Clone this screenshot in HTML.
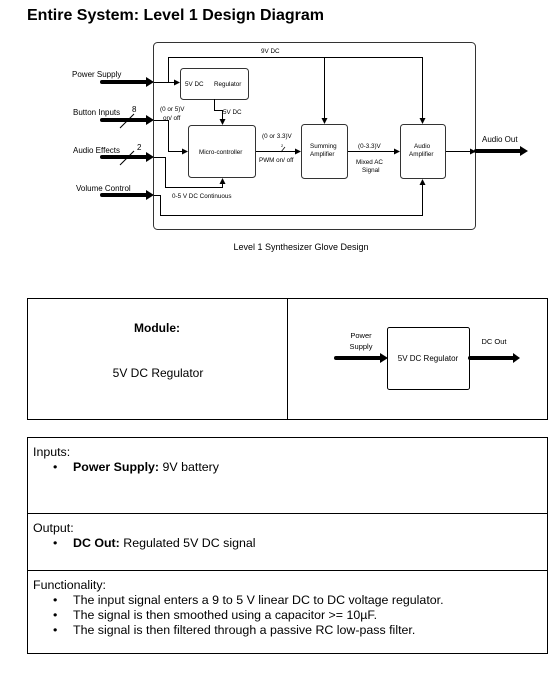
<!DOCTYPE html>
<html><head><meta charset="utf-8"><style>
html,body{margin:0;padding:0;background:#fff;}
svg{display:block;font-family:"Liberation Sans",Arial,sans-serif;}
</style></head><body>
<svg width="560" height="674" viewBox="0 0 560 674" xmlns="http://www.w3.org/2000/svg">
<defs>
<marker id="a" markerWidth="6" markerHeight="6" refX="5" refY="3" orient="auto" markerUnits="userSpaceOnUse"><path d="M0,0 L6,3 L0,6 z" fill="#000"/></marker>
</defs>
<text x="27" y="20" font-size="16" font-weight="bold">Entire System: Level 1 Design Diagram</text>
<rect x="153.5" y="42.5" width="322" height="187" rx="4" fill="none" stroke="#333" stroke-width="1"/>
<g fill="none" stroke="#333" stroke-width="1">
<rect x="180.5" y="68.5" width="68" height="31" rx="3"/>
<rect x="188.5" y="125.5" width="67" height="52" rx="3"/>
<rect x="301.5" y="124.5" width="46" height="54" rx="3"/>
<rect x="400.5" y="124.5" width="45" height="54" rx="3"/>
</g>
<g stroke="#000" stroke-width="4" stroke-linecap="round">
<line x1="102" y1="82" x2="148" y2="82"/>
<line x1="102" y1="120" x2="148" y2="120"/>
<line x1="102" y1="157" x2="148" y2="157"/>
<line x1="102" y1="195" x2="148" y2="195"/>
<line x1="476" y1="151" x2="522" y2="151"/>
<line x1="336" y1="358" x2="381" y2="358"/>
<line x1="470" y1="358" x2="514" y2="358"/>
</g>
<g fill="#000">
<path d="M146,77 L154,82 L146,87z"/><path d="M146,115 L154,120 L146,125z"/><path d="M146,152 L154,157 L146,162z"/><path d="M146,190 L154,195 L146,200z"/>
<path d="M520,146 L528,151 L520,156z"/><path d="M380,353 L388,358 L380,363z"/><path d="M513,353 L520,358 L513,363z"/>
</g>
<g stroke="#000" stroke-width="1" fill="none">
<line x1="120" y1="128" x2="134" y2="114"/>
<line x1="120" y1="165" x2="134" y2="151"/>
<path d="M154,82.5 H179" marker-end="url(#a)"/>
<path d="M168.5,82.5 V57.5 H422.5 V123" marker-end="url(#a)"/>
<path d="M324.5,57.5 V123" marker-end="url(#a)"/>
<path d="M214.5,99 V110.5 H222.5 V124" marker-end="url(#a)"/>
<path d="M154,120.5 H168.5 V151.5 H187" marker-end="url(#a)"/>
<path d="M154,157.5 H165.5 V187.5 H222.5 V179" marker-end="url(#a)"/>
<path d="M154,195.5 H160.5 V215.5 H422.5 V180" marker-end="url(#a)"/>
<path d="M256,151.5 H300" marker-end="url(#a)"/>
<path d="M348,151.5 H399" marker-end="url(#a)"/>
<path d="M446,151.5 H475" marker-end="url(#a)"/>
<line x1="281" y1="152" x2="285" y2="147" stroke-width="0.7"/>
</g>
<g font-size="8">
<text x="72" y="77">Power Supply</text>
<text x="73" y="115">Button Inputs</text>
<text x="73" y="153">Audio Effects</text>
<text x="76" y="191">Volume Control</text>
<text x="132" y="112">8</text>
<text x="137" y="150">2</text>
<text x="482" y="142">Audio Out</text>
</g>
<g font-size="6.3">
<text x="261" y="53">9V DC</text>
<text x="185" y="86">5V DC</text>
<text x="214" y="86">Regulator</text>
<text x="223" y="114">5V DC</text>
<text x="160" y="111">(0 or 5)V</text>
<text x="163" y="120">on/ off</text>
<text x="199" y="154">Micro-controller</text>
<text x="172" y="198">0-5 V DC Continuous</text>
<text x="262" y="138">(0 or 3.3)V</text>
<text x="281" y="147" font-size="4">2</text>
<text x="259" y="162">PWM on/ off</text>
<text x="310" y="148">Summing</text>
<text x="310" y="156">Amplifier</text>
<text x="358" y="148">(0-3.3)V</text>
<text x="356" y="164">Mixed AC</text>
<text x="362" y="172">Signal</text>
<text x="414" y="148">Audio</text>
<text x="409" y="156">Amplifier</text>
</g>
<text x="301" y="250" font-size="9" text-anchor="middle">Level 1 Synthesizer Glove Design</text>
<g stroke="#000" stroke-width="1" fill="none">
<rect x="27.5" y="298.5" width="520" height="121"/>
<line x1="287.5" y1="298" x2="287.5" y2="420"/>
<rect x="27.5" y="437.5" width="520" height="216"/>
<line x1="27" y1="513.5" x2="548" y2="513.5"/>
<line x1="27" y1="570.5" x2="548" y2="570.5"/>
<rect x="387.5" y="327.5" width="82" height="62" rx="2"/>
</g>
<text x="157" y="332" font-size="12" font-weight="bold" text-anchor="middle">Module:</text>
<text x="158" y="377" font-size="12" text-anchor="middle">5V DC Regulator</text>
<text x="428" y="361" font-size="8" text-anchor="middle">5V DC Regulator</text>
<text x="361" y="338" font-size="7.5" text-anchor="middle">Power</text>
<text x="361" y="349" font-size="7.5" text-anchor="middle">Supply</text>
<text x="494" y="344" font-size="7.5" text-anchor="middle">DC Out</text>
<g font-size="12.4">
<text x="33" y="456">Inputs:</text>
<text x="53" y="471">•</text>
<text x="73" y="471"><tspan font-weight="bold">Power Supply:</tspan> 9V battery</text>
<text x="33" y="532">Output:</text>
<text x="53" y="547">•</text>
<text x="73" y="547"><tspan font-weight="bold">DC Out:</tspan> Regulated 5V DC signal</text>
<text x="33" y="589">Functionality:</text>
<text x="53" y="604">•</text>
<text x="73" y="604">The input signal enters a 9 to 5 V linear DC to DC voltage regulator.</text>
<text x="53" y="619">•</text>
<text x="73" y="619">The signal is then smoothed using a capacitor &gt;= 10µF.</text>
<text x="53" y="634">•</text>
<text x="73" y="634">The signal is then filtered through a passive RC low-pass filter.</text>
</g>
</svg>
</body></html>
